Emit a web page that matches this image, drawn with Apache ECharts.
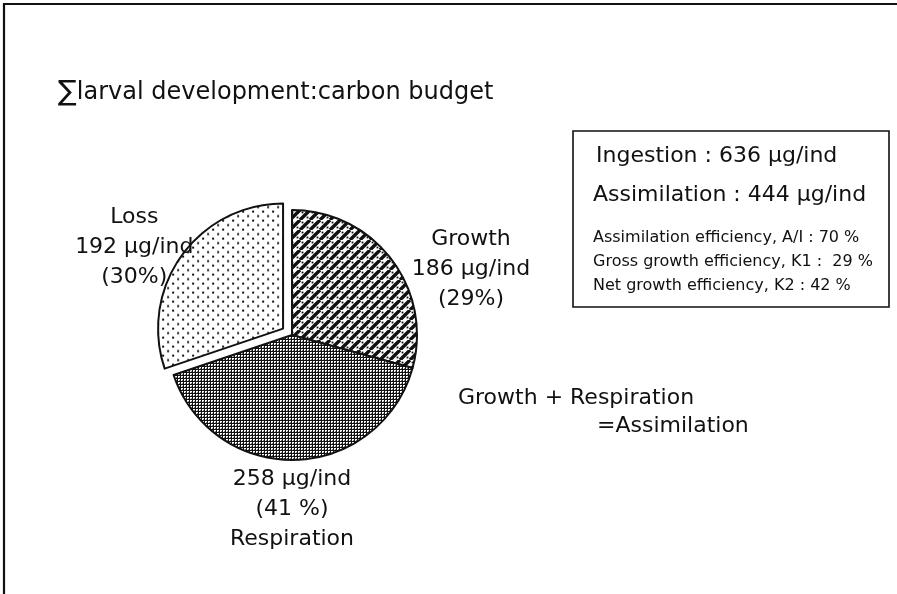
<!DOCTYPE html>
<html>
<head>
<meta charset="utf-8">
<script src="https://cdn.jsdelivr.net/npm/echarts@6/dist/echarts.min.js"></script>
<style>
  html, body { margin: 0; padding: 0; background: #fff; }
  #chart { width: 897px; height: 594px; }
</style>
</head>
<body>
<div id="chart"></div>
<script>
// carbon budget of larval development, ug C per individual
var parts = ['Growth', 'Respiration', 'Loss']
var amounts = [186, 258, 192]
var ingestion = 636
var assimilation = 444
var efficiencies = [
  'Assimilation efficiency, A/I : 70 %',
  'Gross growth efficiency, K1 :  29 %',
  'Net growth efficiency, K2 : 42 %'
]

var font = 'DejaVu Sans'
var ink = '#111'

// hatch fills like the printed figure
function makeTile (w, h, draw) {
  var c = document.createElement('canvas')
  c.width = w
  c.height = h
  var ctx = c.getContext('2d')
  ctx.fillStyle = '#fff'
  ctx.fillRect(0, 0, w, h)
  ctx.fillStyle = '#111'
  ctx.strokeStyle = '#111'
  draw(ctx)
  return { image: c, repeat: 'repeat' }
}

var growthFill = makeTile(10, 10, function (ctx) {
  ctx.lineWidth = 3.4
  ctx.beginPath()
  for (var k = -10; k <= 10; k += 10) {
    ctx.moveTo(k, 10)
    ctx.lineTo(k + 10, 0)
  }
  ctx.stroke()
  ctx.fillRect(1.6, 1.6, 1.8, 1.8)
  ctx.fillRect(6.6, 6.6, 1.8, 1.8)
})

var respFill = makeTile(3, 3, function (ctx) {
  ctx.fillStyle = '#111'
  ctx.fillRect(0, 0, 3, 1)
  ctx.fillRect(0, 0, 1, 3)
  ctx.fillStyle = '#777'
  ctx.fillRect(2, 2, 1, 1)
})

var lossFill = makeTile(10, 9, function (ctx) {
  ctx.fillRect(1, 1, 2, 2)
  ctx.fillRect(6, 5.5, 2, 2)
})

var fills = [growthFill, respFill, lossFill]
var labelPos = [[471, 269], [292, 509], [130, 236]]

var pieData = []
for (var i = 0; i < parts.length; i++) {
  pieData.push({
    name: parts[i],
    value: amounts[i],
    selected: parts[i] === 'Loss',
    itemStyle: { color: fills[i] }
  })
}

var chart = echarts.init(document.getElementById('chart'))

var option = {
  animation: false,
  backgroundColor: '#fff',
  title: {
    left: 53,
    top: 74,
    text: '{s|∑}{t|larval development:carbon budget}',
    textStyle: {
      fontWeight: 'normal',
      rich: {
        s: { fontFamily: font, fontSize: 28, fontWeight: 'normal', color: ink },
        t: { fontFamily: font, fontSize: 24, fontWeight: 'normal', color: ink }
      }
    }
  },
  series: [
    {
      type: 'pie',
      center: [292, 335],
      radius: [0, 125],
      startAngle: 90,
      clockwise: true,
      selectedMode: 'single',
      selectedOffset: 11,
      percentPrecision: 0,
      avoidLabelOverlap: false,
      itemStyle: {
        borderColor: ink,
        borderWidth: 2
      },
      emphasis: { disabled: true },
      label: {
        show: true,
        position: 'outside',
        fontFamily: font,
        fontSize: 22,
        lineHeight: 30,
        color: ink,
        align: 'center',
        formatter: function (p) {
          if (p.name === 'Respiration') {
            return p.value + ' µg/ind\n(' + p.percent + ' %)\n' + p.name
          }
          return p.name + '\n' + p.value + ' µg/ind\n(' + p.percent + '%)'
        }
      },
      labelLine: { show: false },
      labelLayout: function (params) {
        var pos = labelPos[params.dataIndex]
        return { x: pos[0], y: pos[1], align: 'center', verticalAlign: 'middle' }
      },
      data: pieData
    }
  ],
  graphic: [
    {
      type: 'polyline',
      shape: { points: [[4, 594], [4, 4], [897, 4]] },
      style: { stroke: ink, lineWidth: 2.2, fill: null }
    },
    {
      type: 'rect',
      shape: { x: 573, y: 131, width: 316, height: 176 },
      style: { stroke: ink, lineWidth: 1.6, fill: null }
    },
    {
      type: 'text',
      left: 596,
      top: 145,
      style: { text: 'Ingestion : ' + ingestion + ' µg/ind', font: '22px "' + font + '"', fill: ink }
    },
    {
      type: 'text',
      left: 593,
      top: 184,
      style: { text: 'Assimilation : ' + assimilation + ' µg/ind', font: '22px "' + font + '"', fill: ink }
    },
    {
      type: 'text',
      left: 593,
      top: 226,
      style: { text: efficiencies.join('\n'), font: '16px "' + font + '"', lineHeight: 24, fill: ink }
    },
    {
      type: 'text',
      left: 458,
      top: 387,
      style: { text: 'Growth + Respiration', font: '22px "' + font + '"', fill: ink }
    },
    {
      type: 'text',
      left: 597,
      top: 415,
      style: { text: '=Assimilation', font: '22px "' + font + '"', fill: ink }
    }
  ]
}

chart.setOption(option)
</script>
</body>
</html>
